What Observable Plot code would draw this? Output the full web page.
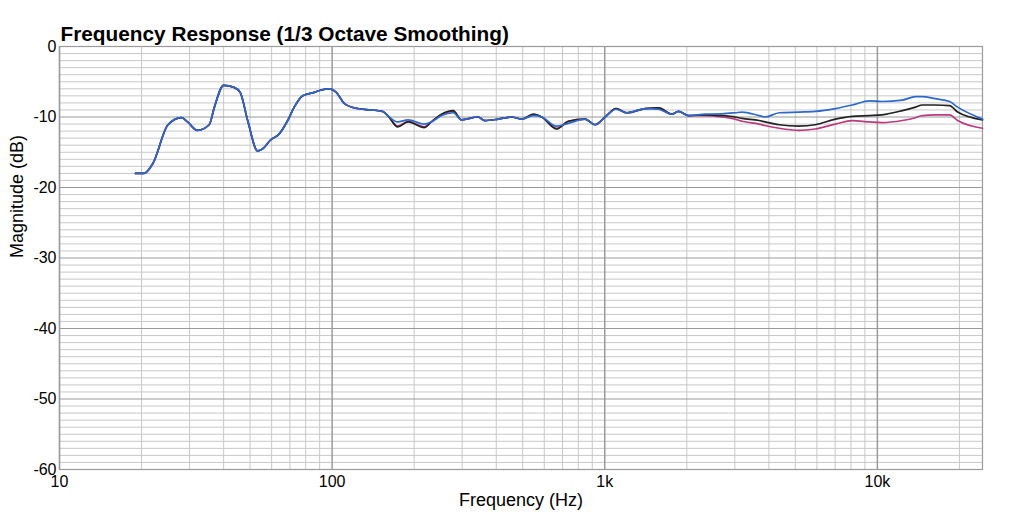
<!DOCTYPE html>
<html>
<head>
<meta charset="utf-8">
<script src="https://cdn.jsdelivr.net/npm/d3@7"></script>
<script src="https://cdn.jsdelivr.net/npm/@observablehq/plot@0.6"></script>
<style>
  html, body { margin: 0; padding: 0; background: #fff; }
  #chart svg { display: block; }
</style>
</head>
<body>
<div id="chart"></div>
<script>
// Frequencies (Hz) shared by the three traces
const freqs = [19, 20.4, 22, 25, 28, 29.5, 32, 35.4, 37, 40, 43.7, 46, 49, 53.3, 56.4, 59.3, 64, 68.7, 72.6, 78, 86, 90.6, 97.7, 103.5, 111, 124, 139, 153, 160, 174, 190, 218, 231, 252, 278, 298, 343, 363, 407, 455, 495, 547, 587, 666, 735, 847, 921, 1003, 1100, 1205, 1407, 1575, 1762, 1865, 2029, 2336, 2692, 3008, 3190, 3680, 3875, 4365, 5160, 5915, 7015, 8090, 9350, 10400, 12350, 13800, 14600, 16300, 18400, 19700, 24300];

const magentaDb = [-18, -18, -16.6, -11.1, -10.1, -10.7, -11.9, -11.1, -8.6, -5.5, -5.8, -6.5, -10.5, -14.8, -14.3, -13.3, -12.4, -10.5, -8.6, -7.0, -6.5, -6.2, -6.0, -6.5, -8.1, -8.8, -9.0, -9.2, -9.8, -11.3, -10.6, -11.4, -10.7, -9.6, -9.2, -10.4, -10.0, -10.5, -10.3, -10.0, -10.3, -9.7, -10.0, -11.6, -10.6, -10.3, -11.1, -10.0, -8.8, -9.4, -8.8, -8.7, -9.6, -9.2, -9.8, -9.8, -10.0, -10.3, -10.6, -11.0, -11.2, -11.6, -11.9, -11.7, -11.0, -10.5, -10.7, -10.8, -10.5, -10.1, -9.8, -9.7, -9.7, -10.5, -11.6];

const blackDb = [-18, -18, -16.6, -11.1, -10.1, -10.7, -11.9, -11.1, -8.6, -5.5, -5.8, -6.5, -10.5, -14.8, -14.3, -13.3, -12.4, -10.5, -8.6, -7.0, -6.5, -6.2, -6.0, -6.5, -8.1, -8.8, -9.0, -9.2, -9.8, -11.4, -10.7, -11.5, -10.7, -9.6, -9.1, -10.4, -10.0, -10.5, -10.3, -10.0, -10.3, -9.6, -10.0, -11.7, -10.6, -10.3, -11.1, -10.0, -8.8, -9.4, -8.8, -8.7, -9.6, -9.2, -9.8, -9.7, -9.8, -10.0, -10.2, -10.5, -10.7, -11.1, -11.3, -11.1, -10.3, -9.9, -9.8, -9.7, -9.1, -8.6, -8.3, -8.3, -8.4, -9.3, -10.4];

const blueDb = [-18, -18, -16.6, -11.1, -10.1, -10.7, -11.9, -11.1, -8.6, -5.5, -5.8, -6.5, -10.5, -14.8, -14.3, -13.3, -12.4, -10.5, -8.6, -7.0, -6.5, -6.2, -6.0, -6.5, -8.1, -8.8, -9.0, -9.2, -9.8, -10.7, -10.4, -11.0, -10.7, -9.8, -9.4, -10.4, -10.0, -10.5, -10.3, -10.0, -10.3, -9.8, -10.0, -11.3, -10.9, -10.3, -11.1, -10.0, -8.9, -9.4, -8.8, -8.9, -9.6, -9.2, -9.8, -9.6, -9.55, -9.4, -9.3, -9.8, -10.0, -9.4, -9.3, -9.2, -8.8, -8.3, -7.7, -7.8, -7.6, -7.1, -7.1, -7.4, -7.8, -8.6, -10.3];

// Axis ticks and grid
const xTickValues = [10, 100, 1000, 10000];
const xTickLabels = ["10", "100", "1k", "10k"];
const xMinorGrid = [20,30,40,50,60,70,80,90,200,300,400,500,600,700,800,900,2000,3000,4000,5000,6000,7000,8000,9000,20000];
const yTickValues = [0, -10, -20, -30, -40, -50, -60];
const yMinorGrid = d3.range(-59, 0).filter(d => d % 10 !== 0);

const seriesNames = ["Trace A", "Trace B", "Trace C"];
const seriesColors = ["#bb3a80", "#222222", "#2f68cc"];

const rows = [];
[magentaDb, blackDb, blueDb].forEach((vals, si) => {
  vals.forEach((v, i) => rows.push({ series: seriesNames[si], f: freqs[i], db: v }));
});

const font = "'Liberation Sans', Arial, Helvetica, sans-serif";

const chart = Plot.plot({
  width: 1024,
  height: 521,
  marginLeft: 59,
  marginRight: 42,
  marginTop: 46,
  marginBottom: 52,
  style: { fontFamily: font, fontSize: "16px", background: "#fff", color: "#000" },
  x: { type: "log", domain: [10, 24300] },
  y: { domain: [-60, 0] },
  color: { domain: seriesNames, range: seriesColors },
  marks: [
    Plot.ruleY(yMinorGrid, { stroke: "#c8c8c8", strokeWidth: 1 }),
    Plot.ruleX(xMinorGrid, { stroke: "#c8c8c8", strokeWidth: 1 }),
    Plot.ruleY(yTickValues, { stroke: "#9a9a9a", strokeWidth: 1.2 }),
    Plot.ruleX(xTickValues, { stroke: "#9a9a9a", strokeWidth: 1.5 }),
    Plot.frame({ stroke: "#9a9a9a", strokeWidth: 1.2 }),
    Plot.line(rows, { x: "f", y: "db", z: "series", stroke: "series", strokeWidth: 1.7, curve: "monotone-x" }),
    Plot.axisX({ ticks: xTickValues, tickFormat: d => xTickLabels[xTickValues.indexOf(d)], tickSize: 0, tickPadding: 6, fontSize: 16, label: null }),
    Plot.axisY({ ticks: yTickValues, tickFormat: d => String(d), tickSize: 0, tickPadding: 3, fontSize: 16, label: null }),
    Plot.text(["Frequency (Hz)"], { frameAnchor: "bottom", lineAnchor: "middle", dy: 31, fontSize: 18 }),
    Plot.text(["Magnitude (dB)"], { frameAnchor: "left", lineAnchor: "middle", rotate: -90, dx: -42, fontSize: 18 }),
    Plot.text(["Frequency Response (1/3 Octave Smoothing)"], { frameAnchor: "top-left", textAnchor: "start", lineAnchor: "middle", dx: 1, dy: -12, fontSize: 20.8, fontWeight: "bold" })
  ]
});

document.getElementById("chart").appendChild(chart);
</script>
</body>
</html>
